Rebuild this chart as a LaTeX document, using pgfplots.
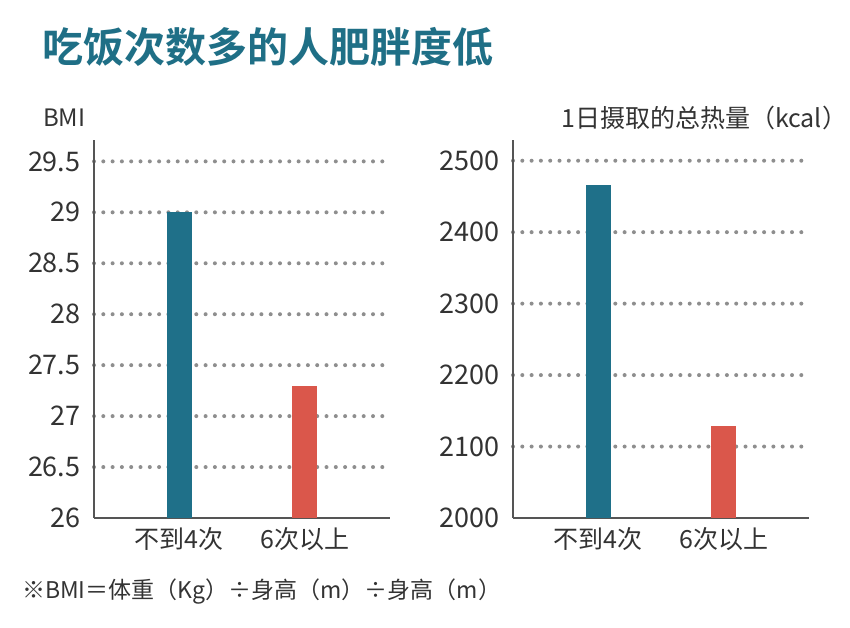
\documentclass[border=0pt]{standalone}
\usepackage{fontspec}
\setmainfont{Noto Sans CJK SC}[BoldFont={Noto Sans CJK SC Bold}]
\usepackage{pgfplots}
\pgfplotsset{compat=1.18}
\definecolor{teal1}{HTML}{1F6F86}
\definecolor{barblue}{HTML}{1F7089}
\definecolor{barred}{HTML}{DA574B}
\definecolor{txt}{HTML}{333333}
\definecolor{axl}{HTML}{555555}
\definecolor{dotc}{HTML}{8E8E8E}
\pgfplotsset{mystyle/.style={
  scale only axis, width=296pt, height=378pt,
  axis x line=bottom, axis y line=left,
  axis line style={-, axl, line width=1.2pt},
  major tick length=0pt,
  xmin=-0.675, xmax=1.675,
  xtick={0,1}, xticklabels={不到4次,6次以上},
  xticklabel style={font=\fontsize{25}{29}\selectfont, text=txt, yshift=-6pt},
  yticklabel style={font=\fontsize{27}{31}\selectfont, text=txt, xshift=-10pt},
  /pgf/number format/assume math mode=true,
  /pgf/number format/1000 sep={},
  scaled y ticks=false,
  ymajorgrids,
  grid style={dotc, line width=4pt, line cap=round, dash pattern=on 0pt off 9.3pt},
  extra y tick style={grid=none},
  ybar, bar width=25pt,
}}
\begin{document}
\begin{tikzpicture}
\fill[white] (0,0) rectangle (850pt,628pt);
\useasboundingbox (0,0) rectangle (850pt,628pt);
\begin{axis}[mystyle, at={(94pt,110pt)}, anchor=south west,
  ymin=26, ymax=29.71, ytick={26.5,27,27.5,28,28.5,29,29.5}, extra y ticks={26}]
\addplot[fill=barblue, draw=none, bar shift=0pt] coordinates {(0,29.0)};
\addplot[fill=barred, draw=none, bar shift=0pt] coordinates {(1,27.3)};
\end{axis}
\begin{axis}[mystyle, at={(513pt,110pt)}, anchor=south west,
  ymin=2000, ymax=2529, ytick={2100,2200,2300,2400,2500}, extra y ticks={2000}]
\addplot[fill=barblue, draw=none, bar shift=0pt] coordinates {(0,2466)};
\addplot[fill=barred, draw=none, bar shift=0pt] coordinates {(1,2129)};
\end{axis}
\node[anchor=west, text=teal1, font=\fontsize{41}{49}\selectfont\bfseries, inner sep=0pt] at (42pt,581pt) {吃饭次数多的人肥胖度低};
\node[anchor=west, text=txt, font=\fontsize{24}{28}\selectfont, inner sep=0pt] at (43pt,510pt) {BMI};
\node[anchor=west, text=txt, font=\fontsize{25}{29}\selectfont, inner sep=0pt] at (561pt,510pt) {1日摄取的总热量（kcal）};
\node[anchor=west, text=txt, font=\fontsize{23}{27}\selectfont, inner sep=0pt] at (22pt,36pt) {※BMI＝体重（Kg）÷身高（m）÷身高（m）};
\end{tikzpicture}
\end{document}
